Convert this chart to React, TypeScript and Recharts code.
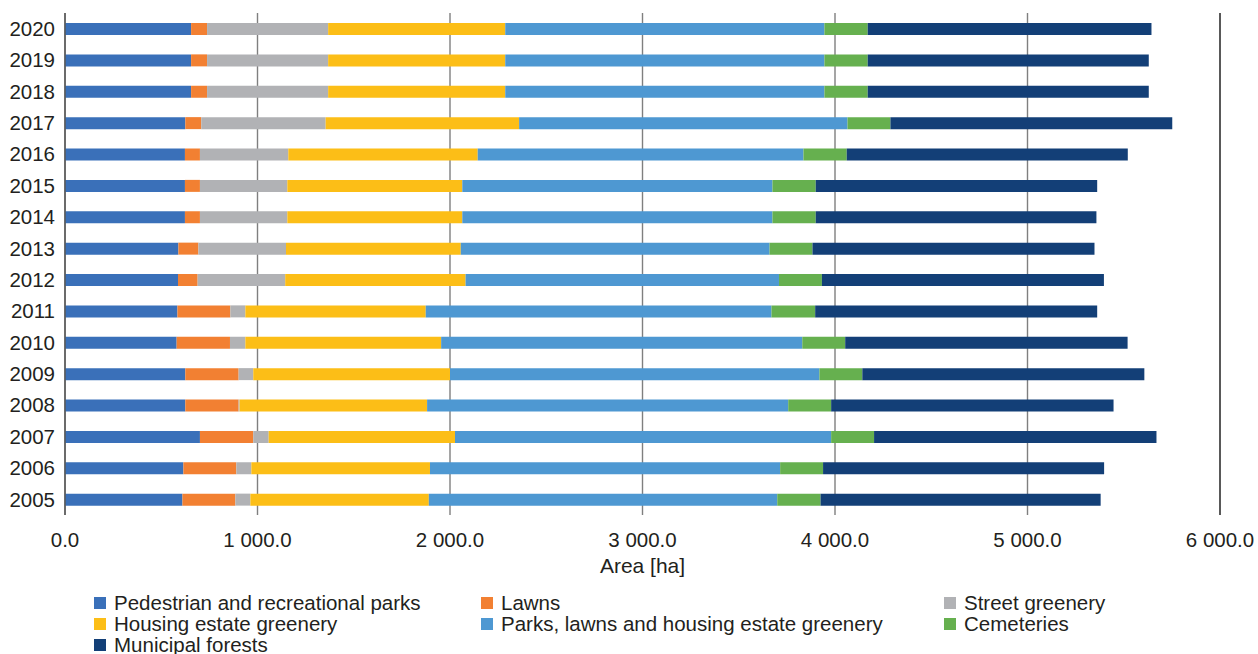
import React from 'react';
import { BarChart, Bar, XAxis, YAxis, CartesianGrid, ReferenceLine } from 'recharts';

const years = ['2020', '2019', '2018', '2017', '2016', '2015', '2014', '2013', '2012', '2011', '2010', '2009', '2008', '2007', '2006', '2005'];
const pedestrian = [655, 655, 655, 625, 623, 623, 623, 589, 587, 584, 580, 625, 625, 701, 615, 610];
const lawns = [83, 83, 83, 83, 78, 78, 78, 104, 102, 275, 277, 277, 277, 277, 275, 275];
const street = [629, 629, 629, 646, 459, 454, 454, 455, 455, 78, 80, 76, 5, 80, 78, 78];
const housing = [920, 920, 920, 1005, 984, 909, 909, 908, 937, 937, 1017, 1022, 974, 968, 928, 927];
const parksLawnsHousing = [1658, 1658, 1658, 1706, 1692, 1611, 1611, 1604, 1628, 1796, 1876, 1919, 1876, 1954, 1819, 1810];
const cemeteries = [225, 225, 225, 223, 225, 225, 225, 223, 223, 227, 223, 223, 223, 223, 223, 225];
const forests = [1474, 1460, 1460, 1464, 1460, 1462, 1458, 1465, 1465, 1465, 1467, 1465, 1467, 1467, 1460, 1455];
const xTicks = [0, 1000, 2000, 3000, 4000, 5000, 6000];

const series = [
  { key: 'pedestrian', name: 'Pedestrian and recreational parks', color: '#3A70B9', values: pedestrian },
  { key: 'lawns', name: 'Lawns', color: '#F28032', values: lawns },
  { key: 'street', name: 'Street greenery', color: '#B1B2B5', values: street },
  { key: 'housing', name: 'Housing estate greenery', color: '#FCBE17', values: housing },
  { key: 'plh', name: 'Parks, lawns and housing estate greenery', color: '#4E98D2', values: parksLawnsHousing },
  { key: 'cemeteries', name: 'Cemeteries', color: '#66B04F', values: cemeteries },
  { key: 'forests', name: 'Municipal forests', color: '#133F77', values: forests },
];

const data = years.map((y, i) => {
  const row: Record<string, string | number> = { year: y };
  series.forEach((s) => {
    row[s.key] = s.values[i];
  });
  return row;
});

const fmt = (v: number) => {
  const s = v.toFixed(1);
  const [intPart, dec] = s.split('.');
  const withSpaces = intPart.replace(/\B(?=(\d{3})+(?!\d))/g, ' ');
  return `${withSpaces}.${dec}`;
};

const FONT = '"Liberation Sans", Arial, sans-serif';
const TEXT = '#231F20';

const legendCols = [94, 481, 944];
const legendRows = [602.5, 624, 644.5];
const legendOrder = [
  ['pedestrian', 0, 0],
  ['lawns', 1, 0],
  ['street', 2, 0],
  ['housing', 0, 1],
  ['plh', 1, 1],
  ['cemeteries', 2, 1],
  ['forests', 0, 2],
] as const;

export default function App() {
  return (
    <div style={{ position: 'fixed', left: 0, top: 0, width: 1258, height: 654, background: '#fff', fontFamily: FONT, overflow: 'hidden' }}>
      <BarChart
        width={1258}
        height={654}
        data={data}
        layout="vertical"
        margin={{ top: 13, right: 38, left: 0, bottom: 79 }}
        barSize={12}
      >
        <CartesianGrid horizontal={false} stroke="#7F7F7F" strokeWidth={1.4} />
        <XAxis
          type="number"
          domain={[0, 6000]}
          ticks={xTicks}
          tickFormatter={fmt}
          axisLine={false}
          tickLine={false}
          tickSize={6}
          tickMargin={11}
          height={60}
          tick={{ fill: TEXT, fontSize: 20.5, fontFamily: FONT }}
          label={(props: any) => {
            const vb = props.viewBox || {};
            return (
              <text
                x={(vb.x ?? 65) + (vb.width ?? 1155) / 2}
                y={(vb.y ?? 515) + 58}
                textAnchor="middle"
                fill={TEXT}
                fontSize={21}
                fontFamily={FONT}
              >
                Area [ha]
              </text>
            );
          }}
        />
        <YAxis
          type="category"
          dataKey="year"
          width={65}
          axisLine={{ stroke: '#595959', strokeWidth: 1.5 }}
          tickLine={false}
          tickSize={6}
          tickMargin={4}
          interval={0}
          tick={{ fill: TEXT, fontSize: 20.5, fontFamily: FONT }}
        />
        <ReferenceLine x={6000} stroke="#404040" strokeWidth={1.5} />
        {series.map((s) => (
          <Bar key={s.key} dataKey={s.key} name={s.name} stackId="a" fill={s.color} isAnimationActive={false} />
        ))}
      </BarChart>
      {legendOrder.map(([key, c, r]) => {
        const s = series.find((x) => x.key === key)!;
        return (
          <div
            key={key}
            style={{
              position: 'absolute',
              left: legendCols[c],
              top: legendRows[r] - 11,
              height: 22,
              display: 'flex',
              alignItems: 'center',
              whiteSpace: 'nowrap',
              fontSize: 20.5,
              lineHeight: '22px',
              color: TEXT,
            }}
          >
            <span style={{ display: 'inline-block', width: 12, height: 12, background: s.color, marginRight: 8 }} />
            <span>{s.name}</span>
          </div>
        );
      })}
    </div>
  );
}
